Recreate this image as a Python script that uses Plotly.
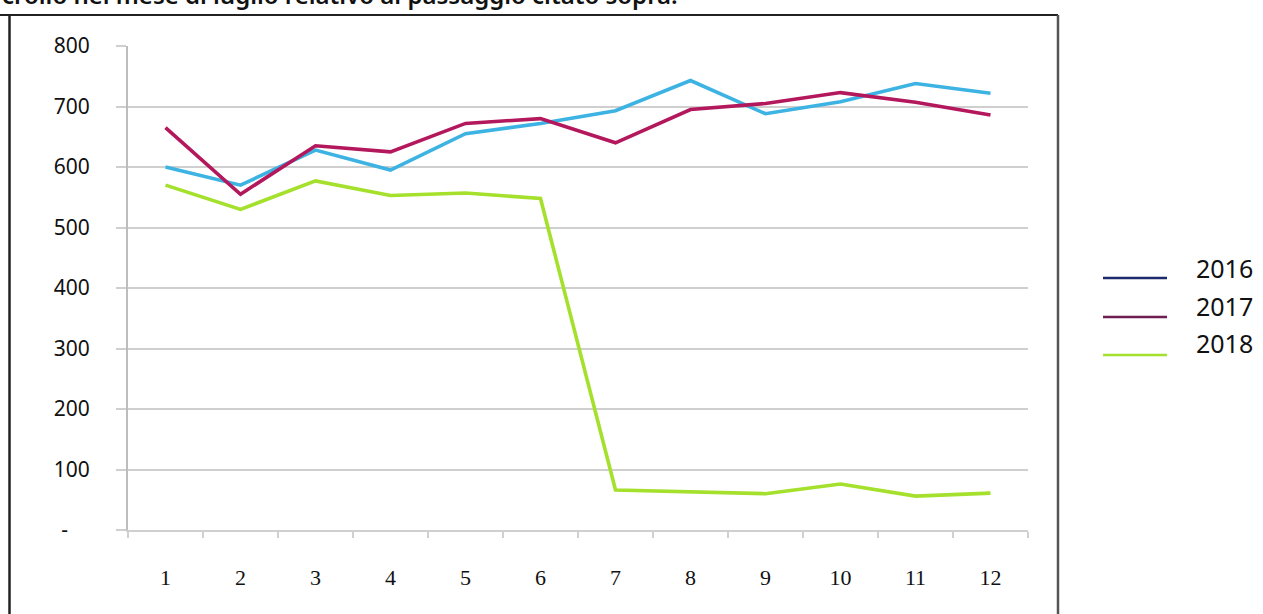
import plotly.graph_objects as go

# Monthly values per year
months = list(range(1, 13))
month_labels = [str(m) for m in months]
series_2016 = [600, 570, 628, 595, 655, 672, 693, 743, 688, 708, 738, 722]
series_2017 = [665, 555, 635, 625, 672, 680, 640, 695, 705, 723, 707, 686]
series_2018 = [570, 530, 577, 553, 557, 548, 66, 63, 60, 76, 56, 61]
years = ["2016", "2017", "2018"]

y_ticks = [0, 100, 200, 300, 400, 500, 600, 700, 800]
# accounting-style zero: a dash set in from the right edge
y_tick_text = ["-\u00a0\u00a0\u00a0\u00a0", "100", "200", "300", "400", "500", "600", "700", "800"]

line_colors = ["#3DB3E3", "#B4185C", "#A4E02C"]
legend_colors = ["#1E2A6E", "#6E1E50", "#A4E02C"]

W, H = 1263, 614
L, R, T, B = 128, 1028, 46, 530  # plot area in pixels


def px_x(px):
    return (px - L) / (R - L)


def px_y(py):
    return (B - py) / (B - T)


fig = go.Figure()
for name, vals, col in zip(years, [series_2016, series_2017, series_2018], line_colors):
    fig.add_trace(go.Scatter(
        x=months, y=vals, mode="lines", name=name,
        line=dict(color=col, width=3.6), showlegend=False,
    ))

font_main = "Noto Sans, DejaVu Sans, sans-serif"
font_serif = "Liberation Serif, DejaVu Serif, serif"

shapes = [
    # frame around the chart
    dict(type="line", xref="paper", yref="paper", x0=px_x(0), x1=px_x(1058),
         y0=px_y(15), y1=px_y(15), line=dict(color="#222", width=2)),
    dict(type="line", xref="paper", yref="paper", x0=px_x(9.5), x1=px_x(9.5),
         y0=px_y(15), y1=px_y(620), line=dict(color="#222", width=2.5)),
    dict(type="line", xref="paper", yref="paper", x0=px_x(1058), x1=px_x(1058),
         y0=px_y(15), y1=px_y(620), line=dict(color="#555", width=2.5)),
]

annotations = [
    dict(text="crollo nel mese di luglio relativo al passaggio citato sopra.",
         xref="paper", yref="paper", x=px_x(0), y=px_y(13),
         xanchor="left", yanchor="bottom", showarrow=False,
         font=dict(family=font_main, size=24, color="#111", weight=600)),
]

# legend drawn beside the plot
legend_line_y = [278, 317, 355]
legend_text_y = [268, 306, 343]
for name, col, ly, ty in zip(years, legend_colors, legend_line_y, legend_text_y):
    shapes.append(dict(type="line", xref="paper", yref="paper",
                       x0=px_x(1103), x1=px_x(1167), y0=px_y(ly), y1=px_y(ly),
                       line=dict(color=col, width=2.5)))
    annotations.append(dict(text=name, xref="paper", yref="paper",
                            x=px_x(1194), y=px_y(ty), xanchor="left", yanchor="middle",
                            showarrow=False,
                            font=dict(family=font_main, size=25, color="#111")))

fig.update_layout(
    width=W, height=H,
    margin=dict(l=L, r=W - R, t=T, b=H - B),
    paper_bgcolor="white", plot_bgcolor="white",
    shapes=shapes, annotations=annotations,
    xaxis=dict(
        range=[0.5, 12.5], tickvals=months, ticktext=month_labels,
        showgrid=False, zeroline=False, showline=True, linecolor="#CFCFCF", linewidth=2,
        ticks="", ticklabelstandoff=27,
        minor=dict(tickvals=[m + 0.5 for m in range(0, 13)], ticks="outside",
                   ticklen=6, tickcolor="#D0D0D0", tickwidth=1.5, showgrid=False),
        tickfont=dict(family=font_serif, size=22, color="#111"),
    ),
    yaxis=dict(
        range=[0, 800], tickvals=y_ticks, ticktext=y_tick_text,
        showgrid=True, gridcolor="#CFCFCF", gridwidth=1.5, zeroline=False,
        showline=True, linecolor="#BDBDBD", linewidth=2,
        ticks="outside", ticklen=10, tickcolor="#CFCFCF", tickwidth=1.5,
        ticklabelstandoff=22,
        tickfont=dict(family=font_main, size=21, color="#111"),
    ),
)

fig.write_html("out.html")
